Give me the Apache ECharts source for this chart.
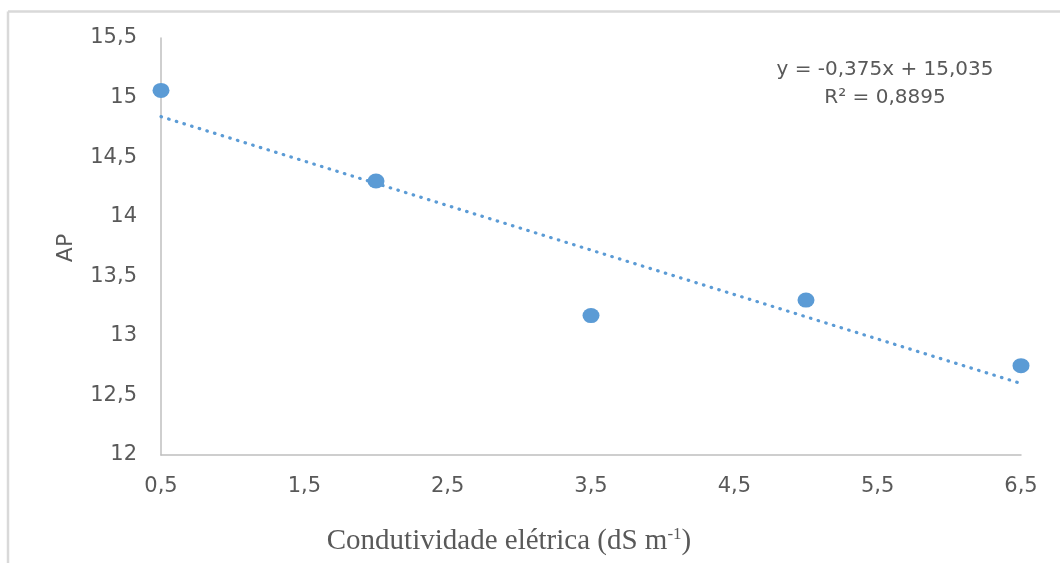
<!DOCTYPE html>
<html>
<head>
<meta charset="utf-8">
<script src="https://cdn.jsdelivr.net/npm/echarts@6/dist/echarts.min.js"></script>
<style>html,body{margin:0;padding:0;background:#fff}#c{width:1060px;height:563px}</style>
</head>
<body>
<div id="c"></div>
<script>
// Data
const xValues = [0.5, 2.0, 3.5, 5.0, 6.5];
const apValues = [15.06, 14.30, 13.17, 13.30, 12.75];
const trendX = [0.5, 6.5];
const trendY = [14.84, 12.60];
const xTicks = [0.5, 1.5, 2.5, 3.5, 4.5, 5.5, 6.5];
const yTicks = [12, 12.5, 13, 13.5, 14, 14.5, 15, 15.5];
const equationLines = ['y = -0,375x + 15,035', 'R² = 0,8895'];
const xTitle = 'Condutividade elétrica (dS m';
const xTitleSup = '-1';
const yTitle = 'AP';

const blue = '#5B9BD5';
const txt = '#595959';
const fmt = v => String(v).replace('.', ',');

const chart = echarts.init(document.getElementById('c'));
chart.setOption({
  animation: false,
  backgroundColor: '#fff',
  grid: { left: 161, right: 39, top: 38, bottom: 108, containLabel: false },
  xAxis: {
    type: 'value', min: xTicks[0], max: xTicks[xTicks.length - 1], interval: 1,
    axisLine: { show: true, lineStyle: { color: '#BFBFBF', width: 1.5 } },
    axisTick: { show: false }, splitLine: { show: false },
    axisLabel: { formatter: fmt, color: txt, fontFamily: 'DejaVu Sans', fontSize: 21, margin: 21 }
  },
  yAxis: {
    type: 'value', min: yTicks[0], max: yTicks[yTicks.length - 1], interval: 0.5,
    axisLine: { show: true, lineStyle: { color: '#BFBFBF', width: 1.5 } },
    axisTick: { show: false }, splitLine: { show: false },
    axisLabel: { formatter: fmt, color: txt, fontFamily: 'DejaVu Sans', fontSize: 21, margin: 24 }
  },
  series: [
    {
      type: 'line', data: trendX.map((x, i) => [x, trendY[i]]),
      symbol: 'none', z: 1,
      lineStyle: { color: blue, width: 3.2, type: [0.5, 7.5], cap: 'round' }
    },
    {
      type: 'scatter', data: xValues.map((x, i) => [x, apValues[i]]),
      symbol: 'circle', symbolSize: [17, 15], z: 3,
      itemStyle: { color: blue, opacity: 1 }
    }
  ],
  graphic: [
    { type: 'line', shape: { x1: 8, y1: 11.5, x2: 1060, y2: 11.5 }, style: { stroke: '#D9D9D9', lineWidth: 2.5 }, silent: true },
    { type: 'line', shape: { x1: 8, y1: 11.5, x2: 8, y2: 563 }, style: { stroke: '#D9D9D9', lineWidth: 2.5 }, silent: true },
    {
      type: 'text', x: 885, y: 70,
      style: { text: equationLines[0], fill: txt, font: '20px "DejaVu Sans"', textAlign: 'center', textVerticalAlign: 'middle' }
    },
    {
      type: 'text', x: 885, y: 98,
      style: { text: equationLines[1], fill: txt, font: '20px "DejaVu Sans"', textAlign: 'center', textVerticalAlign: 'middle' }
    },
    {
      type: 'text', x: 66, y: 248, rotation: Math.PI / 2,
      style: { text: yTitle, fill: txt, font: '22px "DejaVu Sans"', textAlign: 'center', textVerticalAlign: 'middle' }
    },
    {
      type: 'text', x: 509, y: 541,
      style: {
        text: xTitle + '{sup|' + xTitleSup + '})',
        rich: { sup: { fontSize: 17, fontFamily: 'Liberation Serif', fill: txt, verticalAlign: 'top', padding: [0, 0, 12, 0] } },
        fill: txt, fontSize: 29, fontFamily: 'Liberation Serif', textAlign: 'center', textVerticalAlign: 'middle'
      }
    }
  ]
});
</script>
</body>
</html>
